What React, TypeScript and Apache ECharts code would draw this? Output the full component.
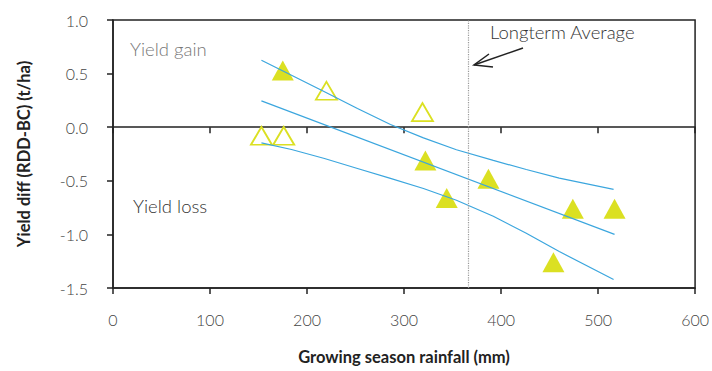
import React, { useEffect, useRef } from "react";
import * as echarts from "echarts";

// Filled triangles (rainfall mm, yield diff t/ha)
const filledX = [175, 322, 344, 387, 454, 474, 517];
const filledY = [0.53, -0.31, -0.66, -0.48, -1.26, -0.76, -0.76];
// Open triangles
const openX = [153, 176, 220, 319];
const openY = [-0.08, -0.08, 0.34, 0.14];
// Regression line
const fitX = [153, 517];
const fitY = [0.245, -1.0];
// Upper confidence band
const upperX = [153, 184, 218, 252, 286, 320, 354, 392, 426, 460, 516];
const upperY = [0.625, 0.485, 0.33, 0.174, 0.025, -0.1, -0.21, -0.31, -0.395, -0.475, -0.58];
// Lower confidence band
const lowerX = [153, 184, 218, 252, 286, 320, 354, 392, 426, 460, 516];
const lowerY = [-0.146, -0.208, -0.292, -0.385, -0.478, -0.572, -0.681, -0.83, -0.99, -1.16, -1.42];
// Longterm average rainfall
const longtermAverage = 366;
// Axis ticks
const xTicks = [0, 100, 200, 300, 400, 500, 600];
const yTicks = [-1.5, -1.0, -0.5, 0.0, 0.5, 1.0];

const zip = (xs: number[], ys: number[]) => xs.map((x, i) => [x, ys[i]]);

const FONT = "Lato";
const YELLOW = "#dbe022";
const BLUE = "#3ba6de";

export default function App() {
  const ref = useRef<HTMLDivElement>(null);
  useEffect(() => {
    document.body.style.margin = "0";
    if (!ref.current) return;
    const chart = echarts.init(ref.current, undefined, { renderer: "svg" });
    const axisLine = { lineStyle: { color: "#222", width: 1.5 } };
    const tick = { show: true, length: 6, lineStyle: { color: "#222", width: 1.5 } };
    chart.setOption({
      animation: false,
      backgroundColor: "#fff",
      grid: {
        left: 113,
        top: 20,
        right: 12,
        bottom: 83,
        show: true,
        borderColor: "#222",
        borderWidth: 1.5,
      },
      xAxis: [
        {
          type: "value",
          min: xTicks[0],
          max: xTicks[xTicks.length - 1],
          interval: 100,
          position: "bottom",
          axisLine: { ...axisLine, onZero: false },
          axisTick: tick,
          axisLabel: {
            margin: 23,
            fontFamily: FONT,
            fontWeight: 300,
            fontSize: 16,
            color: "#444",
          },
          splitLine: { show: false },
          name: "Growing season rainfall (mm)",
          nameLocation: "middle",
          nameGap: 60,
          nameTextStyle: { fontFamily: FONT, fontWeight: "bold", fontSize: 16.5, color: "#222" },
        },
        {
          type: "value",
          min: xTicks[0],
          max: xTicks[xTicks.length - 1],
          interval: 100,
          position: "bottom",
          axisLine: { ...axisLine, onZero: true },
          axisTick: tick,
          axisLabel: { show: false },
          splitLine: { show: false },
        },
      ],
      yAxis: {
        type: "value",
        min: yTicks[0],
        max: yTicks[yTicks.length - 1],
        interval: 0.5,
        axisLine: { ...axisLine, onZero: false },
        axisTick: tick,
        axisLabel: {
          margin: 25,
          fontFamily: FONT,
          fontWeight: 300,
          fontSize: 16,
          color: "#444",
          formatter: (v: number) => v.toFixed(1),
        },
        splitLine: { show: false },
        name: "Yield diff (RDD-BC) (t/ha)",
        nameLocation: "middle",
        nameGap: 81,
        nameTextStyle: { fontFamily: FONT, fontWeight: "bold", fontSize: 16.5, color: "#222" },
      },
      series: [
        {
          type: "line",
          data: zip(upperX, upperY),
          symbol: "none",
          smooth: false,
          lineStyle: { color: BLUE, width: 1.2 },
          z: 3,
        },
        {
          type: "line",
          data: zip(fitX, fitY),
          symbol: "none",
          lineStyle: { color: BLUE, width: 1.2 },
          z: 3,
          markLine: {
            silent: true,
            symbol: "none",
            label: { show: false },
            lineStyle: { color: "#999", type: "dotted", width: 1.2 },
            data: [{ xAxis: longtermAverage }],
          },
        },
        {
          type: "line",
          data: zip(lowerX, lowerY),
          symbol: "none",
          smooth: false,
          lineStyle: { color: BLUE, width: 1.2 },
          z: 3,
        },
        {
          type: "scatter",
          data: zip(filledX, filledY),
          symbol: "triangle",
          symbolSize: [22, 20],
          itemStyle: { color: YELLOW, opacity: 1 },
          z: 2,
        },
        {
          type: "scatter",
          data: zip(openX, openY),
          symbol: "triangle",
          symbolSize: [21, 18],
          itemStyle: { color: "rgba(255,255,255,0)", borderColor: YELLOW, borderWidth: 1.8, opacity: 1 },
          z: 2,
        },
      ],
      graphic: [
        {
          type: "text",
          left: 130,
          top: 39,
          style: { text: "Yield gain", fontFamily: FONT, fontWeight: 300, fontSize: 18.5, fill: "#777" },
        },
        {
          type: "text",
          left: 133,
          top: 196,
          style: { text: "Yield loss", fontFamily: FONT, fontWeight: 300, fontSize: 18.5, fill: "#333" },
        },
        {
          type: "text",
          left: 490,
          top: 22,
          style: { text: "Longterm Average", fontFamily: FONT, fontWeight: 300, fontSize: 18.5, fill: "#333" },
        },
        {
          type: "line",
          shape: { x1: 523, y1: 48, x2: 474, y2: 65 },
          style: { stroke: "#222", lineWidth: 1.5 },
        },
        {
          type: "polyline",
          shape: { points: [[489, 54], [474, 65], [493, 67]] },
          style: { stroke: "#222", lineWidth: 1.5, fill: "none" },
        },
      ],
    });
    return () => chart.dispose();
  }, []);
  return <div ref={ref} style={{ width: 712, height: 371 }} />;
}
